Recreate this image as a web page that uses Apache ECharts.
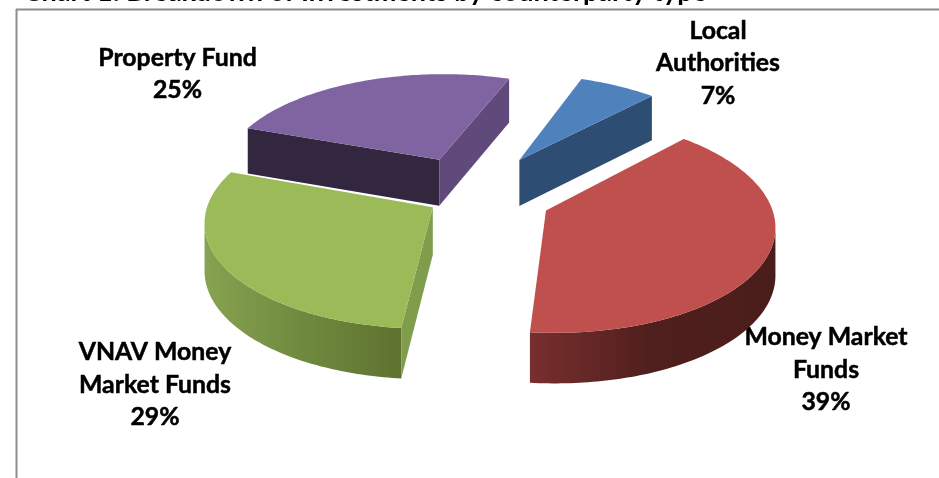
<!DOCTYPE html>
<html><head><meta charset="utf-8">
<style>html,body{margin:0;padding:0;background:#fff}#c{width:939px;height:478px}</style>
<script src="https://cdn.jsdelivr.net/npm/echarts@6/dist/echarts.min.js"></script>
</head><body><div id="c"></div>
<script>
const categories = ['Local Authorities', 'Money Market Funds', 'VNAV Money Market Funds', 'Property Fund'];
const shares = [6.51, 39.49, 29, 25];
const explode = [0.41, 0.32, 0.233, 0.416];
const explodeTurn = [-5, 0, 6, -2.3];
const tops = ['#4f81bd', '#c0504d', '#9bbb59', '#8064a2'];
const sideFaces = ['#2e4d72', '#5a2322', '#7f9d4a', '#33263f'];
const endFaces = ['#2e4d72', '#5a2322', '#7f9d4a', '#604a7b'];
const wallStops = [
  ['#2e4d72', '#2e4d72'],
  ['#772f2e', '#4f1f1d', '#4a1d1b'],
  ['#87a250', '#6f8a3e', '#5f7230'],
  ['#33263f', '#33263f']
];
const startDeg = 20, CX = 480, CY = 196.5, RX = 223, RY = 104, P = 0.12, DEPTH = 47;

const total = shares.reduce((a, b) => a + b, 0);
const startAngles = [];
shares.reduce((acc, s, i) => { startAngles[i] = acc; return acc + s / total * 360; }, startDeg);

function proj(u, v) {
  const w = 1 / (1 + P * v);
  return { x: CX + RX * u * w, y: CY - RY * v * w, d: DEPTH * Math.sqrt(w) };
}
function renderItem(params, api) {
  const i = params.dataIndex;
  const value = api.value(1);
  const sweep = value / total * 360;
  const a0 = startAngles[i], mid = (a0 + sweep / 2 + explodeTurn[i]) * Math.PI / 180;
  const eu = explode[i] * Math.sin(mid), ev = explode[i] * Math.cos(mid);
  const A = proj(eu, ev);
  const arc = [];
  const n = Math.max(8, Math.round(sweep));
  for (let k = 0; k <= n; k++) {
    const t = (a0 + sweep * k / n) * Math.PI / 180;
    arc.push(proj(eu + Math.sin(t), ev + Math.cos(t)));
  }
  const S = arc[0], E = arc[arc.length - 1];
  const z = Math.round(A.y) * 10;
  const kids = [];
  const wallPts = [];
  const low = [];
  for (let k = 0; k < n; k++) {
    if (arc[k + 1].x < arc[k].x) {
      if (!wallPts.length) { wallPts.push([arc[k].x, arc[k].y]); low.push([arc[k].x, arc[k].y + arc[k].d]); }
      wallPts.push([arc[k + 1].x, arc[k + 1].y]);
      low.push([arc[k + 1].x, arc[k + 1].y + arc[k + 1].d]);
    }
  }
  if (wallPts.length) {
    const st = wallStops[i];
    kids.push({
      type: 'polygon', z2: z,
      shape: { points: wallPts.concat(low.reverse()) },
      style: { fill: new echarts.graphic.LinearGradient(0, 0, 1, 0,
        st.map((c, j) => ({ offset: j / (st.length - 1), color: c })).slice().reverse()) , stroke: null }
    });
  }
  const face = (P1, col) => ({
    type: 'polygon', z2: z + 1,
    shape: { points: [[A.x, A.y], [P1.x, P1.y], [P1.x, P1.y + P1.d], [A.x, A.y + A.d]] },
    style: { fill: col }
  });
  if (S.x < A.x) kids.push(face(S, sideFaces[i]));
  if (E.x > A.x) kids.push(face(E, endFaces[i]));
  kids.push({
    type: 'polygon', z2: z + 2,
    shape: { points: [[A.x, A.y]].concat(arc.map(p => [p.x, p.y])) },
    style: { fill: tops[i] }
  });
  return { type: 'group', children: kids };
}
const txt = (x, y, t, size) => ({
  type: 'text', x, y, silent: true,
  style: { text: t, fill: '#000', stroke: '#000', lineWidth: 0.5, font: `bold ${size}px Lato`, align: 'center', lineHeight: 32.5, verticalAlign: 'middle' }
});
const chart = echarts.init(document.getElementById('c'), null, { renderer: 'canvas' });
chart.setOption({
  animation: false,
  backgroundColor: '#fff',
  graphic: [
    { type: 'text', x: 707, y: 6, silent: true,
      style: { text: 'Chart 1: Breakdown of Investments by counterparty type', fill: '#000', font: 'bold 27px Lato', align: 'right', verticalAlign: 'bottom' } },
    { type: 'line', shape: { x1: 16.5, y1: 9, x2: 16.5, y2: 478 }, style: { stroke: '#8c8c8c', lineWidth: 2 } },
    { type: 'line', shape: { x1: 16, y1: 9.5, x2: 939, y2: 9.5 }, style: { stroke: '#8c8c8c', lineWidth: 2 } },
    txt(177.5, 74, 'Property Fund\n25%', 24.8),
    txt(718, 63.5, 'Local\nAuthorities\n7%', 24.8),
    txt(826, 370, 'Money Market\nFunds\n39%', 24.8),
    txt(155, 385, 'VNAV Money\nMarket Funds\n29%', 24.8)
  ],
  series: [{
    type: 'custom', coordinateSystem: 'none', renderItem,
    data: categories.map((c, i) => [c, shares[i]])
  }]
});
</script></body></html>
